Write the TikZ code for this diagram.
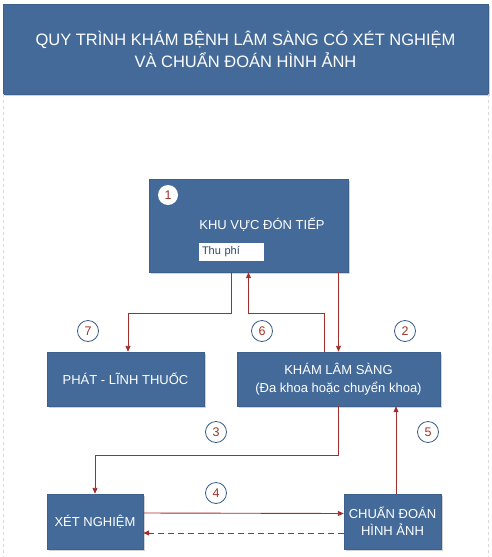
\documentclass[tikz,border=0pt]{standalone}
\usepackage{fontspec}
\setmainfont{Liberation Sans}
\usetikzlibrary{arrows.meta,shadows}

\definecolor{boxblue}{RGB}{68,106,154}
\definecolor{arrowred}{RGB}{163,46,46}
\definecolor{numred}{RGB}{160,50,40}
\definecolor{ringblue}{RGB}{58,92,138}
\definecolor{feetext}{RGB}{45,70,105}

\begin{document}
\begin{tikzpicture}[x=1pt, y=-1pt,
box/.style={rectangle, fill=boxblue, draw=boxblue!90!black, text=white, align=center, inner sep=0pt,
  font=\fontsize{13}{18}\selectfont,
  drop shadow={shadow xshift=1.5pt, shadow yshift=-1.5pt, opacity=0.35}},
num/.style={circle, draw=ringblue, fill=white, line width=0.8pt, minimum size=21pt, inner sep=0pt,
  text=numred, font=\fontsize{12.5}{12.5}\selectfont},
arr/.style={-{Triangle[length=6pt, width=5pt]}, draw=arrowred, color=arrowred, line width=0.9pt},
frame/.style={draw=black!15, dashed, line width=0.6pt}
]
\useasboundingbox (0,0) rectangle (492,557);

%Nodes
\node[box, minimum width=485pt, minimum height=90pt, font=\fontsize{16.5}{22}\selectfont]
      (title)  at (245.5,49)   {QUY TRÌNH KHÁM BỆNH LÂM SÀNG CÓ XÉT NGHIỆM\\VÀ CHUẨN ĐOÁN HÌNH ẢNH};
\node[box, minimum width=199pt, minimum height=93pt] (rec)   at (248.5,225.5) {};
\node[text=white, font=\fontsize{13}{13}\selectfont] (reclbl) at (262,225) {KHU VỰC ĐÓN TIẾP};
\node[fill=white, text=feetext, text width=59pt, align=left, inner sep=3pt, minimum height=18pt,
      font=\fontsize{11}{11}\selectfont] (fee) at (231.5,252) {Thu phí};
\node[box, minimum width=157pt, minimum height=54pt] (pharm) at (125.5,379)   {PHÁT - LĨNH THUỐC};
\node[box, minimum width=203pt, minimum height=54pt] (exam)  at (338.5,379)   {KHÁM LÂM SÀNG\\(Đa khoa hoặc chuyển khoa)};
\node[box, minimum width=96pt,  minimum height=55pt] (lab)   at (95,521.5)    {XÉT NGHIỆM};
\node[box, minimum width=97pt,  minimum height=55pt, font=\fontsize{13}{17}\selectfont]
      (img)    at (392.5,521.5) {CHUẨN ĐOÁN\\HÌNH ẢNH};

\node[num, draw=none, minimum size=20pt] (n1) at (168,195) {1};
\node[num] (n7) at (88,331)  {7};
\node[num] (n6) at (262,331) {6};
\node[num] (n2) at (405,331) {2};
\node[num] (n3) at (216,432) {3};
\node[num] (n5) at (428,432) {5};
\node[num] (n4) at (216,493) {4};

%Page edges
\draw[frame] (title.south west) -- ++(0,463);
\draw[frame] (title.south east) -- ++(0,463);

%Lines
\draw[arr] ([xshift=-17.5pt]rec.south) -- ++(0,41) -| ([xshift=2.5pt]pharm.north);
\draw[arr] ([xshift=-14.5pt]exam.north) -- ++(0,-38) -| (rec.south);
\draw[arr] (rec.south -| exam.north) -- (exam.north);
\draw[arr] (exam.south) -- ++(0,49) -| (lab.north);
\draw[arr] ([xshift=3.5pt]img.north) -- ([xshift=3.5pt]img.north |- exam.south);
\draw[arr] ([yshift=8.5pt]lab.east) -- ([yshift=8pt]img.west);
\draw[arr, dash pattern=on 6pt off 4pt] ([yshift=-11.5pt]img.west) -- ([yshift=-11.5pt]lab.east);
\end{tikzpicture}
\end{document}
